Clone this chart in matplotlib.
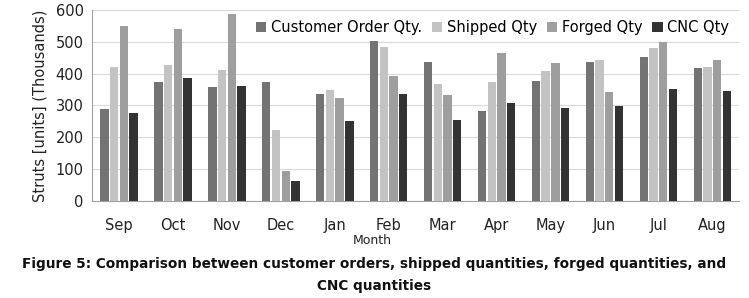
import matplotlib
matplotlib.use("Agg")
import matplotlib.pyplot as plt
import numpy as np

months = ["Sep", "Oct", "Nov", "Dec", "Jan", "Feb", "Mar", "Apr", "May", "Jun", "Jul", "Aug"]
customer_order = [290, 374, 357, 374, 335, 503, 436, 282, 378, 436, 451, 419]
shipped = [421, 428, 410, 224, 350, 484, 366, 374, 408, 442, 480, 422]
forged = [550, 540, 587, 93, 325, 392, 332, 466, 435, 343, 500, 442]
cnc = [275, 386, 362, 63, 252, 336, 255, 307, 293, 299, 353, 345]
series_names = ["Customer Order Qty.", "Shipped Qty", "Forged Qty", "CNC Qty"]
colors = ["#737373", "#c3c3c3", "#9e9e9e", "#333333"]

fig = plt.figure(figsize=(7.49, 2.98), dpi=100)
ax = fig.add_axes([0.123, 0.3255, 0.864, 0.641])

x = np.arange(len(months))
series = [customer_order, shipped, forged, cnc]
step = 0.18
w = 0.155
for i, (vals, name, c) in enumerate(zip(series, series_names, colors)):
    ax.bar(x + (i - 1.5) * step, vals, width=w, color=c, label=name, zorder=3)

ax.set_xlim(-0.5, len(months) - 0.5)
ax.set_ylim(0, 600)
ax.set_yticks(range(0, 601, 100))
ax.set_xticks(x)
ax.set_xticklabels(months)
ax.tick_params(axis="x", length=0, pad=12, labelsize=10.5, colors="#222222")
ax.tick_params(axis="y", length=0, pad=6, labelsize=10.5, colors="#222222")
ax.grid(axis="y", color="#d9d9d9", linewidth=0.8, zorder=0)
for s in ["right", "top"]:
    ax.spines[s].set_visible(False)
ax.spines["left"].set_color("#a0a0a0")
ax.spines["bottom"].set_color("#a0a0a0")
ax.set_ylabel("Struts [units] (Thousands)", fontsize=10.5, color="#222222", labelpad=6)

leg = ax.legend(loc="upper right", ncol=4, frameon=False, fontsize=10.5,
                handlelength=0.7, handleheight=0.7, handletextpad=0.3,
                columnspacing=0.7, bbox_to_anchor=(1.0, 1.0), borderaxespad=0.3)

fig.text(0.497, 0.192, "Month", ha="center", va="center", fontsize=9, color="#222222")
fig.text(0.5, 0.115, "Figure 5: Comparison between customer orders, shipped quantities, forged quantities, and",
         ha="center", va="center", fontsize=9.8, fontweight="bold", color="#111111")
fig.text(0.5, 0.04, "CNC quantities", ha="center", va="center", fontsize=9.8,
         fontweight="bold", color="#111111")

fig.savefig("out.png", dpi=100, facecolor="white")
